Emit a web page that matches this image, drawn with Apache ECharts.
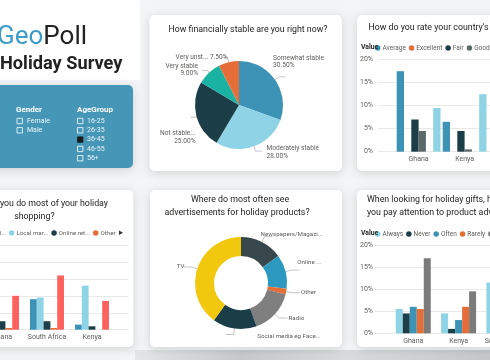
<!DOCTYPE html>
<html><head><meta charset="utf-8">
<script src="https://cdn.jsdelivr.net/npm/echarts@6/dist/echarts.min.js"></script>
<style>html,body{margin:0;padding:0;background:#fff}#c{width:490px;height:360px}</style>
</head><body><div id="c"></div>
<script>
// ---------- data ----------
const genderOptions = ['Female', 'Male'];
const ageGroups = ['16-25', '26-35', '36-45', '46-55', '56+'];
const ageSelected = '36-45';

const stabilityNames = ['Somewhat stable', 'Moderately stable', 'Not stable at all', 'Very stable', 'Very unstable'];
const stabilityLabels = ['Somewhat stable', 'Moderately stable', 'Not stable...', 'Very stable', 'Very unst...'];
const stabilityValues = [30.5, 28, 25, 9, 7.5];

const rateCountries = ['Ghana', 'Kenya'];
const rateSeries = ['Average', 'Excellent', 'Fair', 'Good', 'Poor', 'Very poor'];
const rateAverage = [17.5, 6.5];
const rateExcellent = [0, 0];
const rateFair = [7, 4.5];
const rateGood = [4.5, 0.5];
const ratePoor = [0, 0];
const rateVeryPoor = [9.5, 12.5];

const shopCountries = ['Ghana', 'South Africa', 'Kenya'];
const shopSeries = ['Retail stores', 'Local market', 'Online retailers', 'Other', 'Supermarket'];
const shopLegendLabels = ['Retail...', 'Local mar...', 'Online ret...', 'Other', 'Supermar...'];
const shopRetail = [6, 9, 1.5];
const shopLocal = [5, 9.5, 13];
const shopOnline = [2.5, 2.5, 1];
const shopOther = [0.5, 0.5, 0];
const shopSuper = [10, 16, 8.5];

const adNames = ['Newspapers/Magazines', 'Online platforms', 'Other', 'Radio', 'Social media eg Facebook', 'TV'];
const adLabels = ['Newspapers/Magazi...', 'Online ...', 'Other', 'Radio', 'Social media eg Face...', 'TV'];
const adValues = [15, 12, 2, 15.5, 15.5, 40];

const attnCountries = ['Ghana', 'Kenya', 'South Africa'];
const attnSeries = ['Always', 'Never', 'Often', 'Rarely', 'Sometimes'];
const attnAlways = [5.5, 4.5, 11.5];
const attnNever = [4.5, 1, null];
const attnOften = [6, 3, null];
const attnRarely = [5.5, 6, null];
const attnSometimes = [17, 9.5, null];

// ---------- styles ----------
const F = 'Roboto, "Noto Sans", sans-serif';
const C = {steel:'#3c93b5', light:'#8fd3e6', dark:'#1c3e48', teal:'#1ab3a3', orange:'#e56d38',
  grey:'#5d686a', grey2:'#7b7b7b', red:'#fd625e', yellow:'#f2c80f', slate:'#37474c', blue2:'#2d99c0'};
const stabilityColors = [C.steel, C.light, C.dark, C.teal, C.orange];
const rateColors = [C.steel, C.orange, C.dark, C.grey, C.red, C.light];
const shopColors = [C.steel, C.light, C.dark, C.orange, C.red];
const adColors = [C.slate, C.blue2, C.orange, '#7f7f7f', C.dark, C.yellow];
const attnColors = [C.light, C.dark, C.steel, C.orange, C.grey2];
const TXT = '#252423', SUB = '#605e5c', GRID = '#e9e9e9';
const TS = 8.8; // title font size
// label nudges (layout only)
const stabLabelShift = [[-17, -15], [0, 1], [10, 20], [1, -1], [11, 0]];
const adLabelShift = [[-17, -2], [-7, -8], [-4, 0], [-4, 0], [100, 2], [6, 0]];

const measure = (() => { const cv = document.createElement('canvas').getContext('2d');
  return (t, f) => { cv.font = f; return cv.measureText(t).width; }; })();

const chart = echarts.init(document.getElementById('c'), null, {renderer:'canvas'});

// ---------- graphics ----------
const g = [];
g.push({type:'rect', z:-20, shape:{x:0,y:0,width:490,height:360}, style:{fill:'#f4f5f6'}});
g.push({type:'rect', z:-20, shape:{x:0,y:0,width:140,height:80}, style:{fill:'#ffffff'}});
g.push({type:'rect', z:-19, shape:{x:135,y:350,width:355,height:10},
  style:{fill:new echarts.graphic.LinearGradient(0,0,1,0,[{offset:0,color:'#e4e7e8'},{offset:0.3,color:'#c6cacc'},{offset:0.6,color:'#d9dcdd'},{offset:1,color:'#c4c8ca'}])}});
const panel = (x, y, w, h, fill) => g.push({type:'rect', z:-10, shape:{x, y, width:w, height:h, r:5},
  style:{fill: fill || '#ffffff', shadowBlur:10, shadowColor:'rgba(0,0,0,0.15)', shadowOffsetY:2}});
panel(-10, 85, 143, 83, '#4697b7');
panel(149.5, 15, 192.5, 156);
panel(357, 15, 150, 156);
panel(-10, 190, 143.3, 157);
panel(150, 190, 192, 157);
panel(357, 190, 150, 157);

const text = (t, x, y, o) => g.push(Object.assign({type:'text', z:50, x, y,
  style:Object.assign({text:t, fontFamily:F, fontSize:TS, fill:TXT, textAlign:'left', textVerticalAlign:'middle'}, o || {})}));

// header
g.push({type:'text', z:50, x:-3, y:37, style:{text:'{a|Geo}{b|Poll}', textVerticalAlign:'middle',
  rich:{a:{fontFamily:F, fontSize:26, fill:'#3d9dc8', color:'#3d9dc8'}, b:{fontFamily:F, fontSize:26, fill:'#222', color:'#222'}}}});
text('Holiday Survey', 0, 64, {fontSize:18.2, fontWeight:'bold', fill:'#222'});

// slicers
text('Gender', 16, 110, {fontSize:8, fontWeight:'bold', fill:'#fff'});
genderOptions.forEach((o, i) => {
  const y = 121 + i * 9.3;
  g.push({type:'rect', z:50, shape:{x:17, y:y-2.7, width:5.4, height:5.4}, style:{fill:'none', stroke:'#fff', lineWidth:0.8}});
  text(o, 27, y, {fontSize:7, fill:'#eaf4f8'});
});
text('AgeGroup', 77, 110, {fontSize:8, fontWeight:'bold', fill:'#fff'});
ageGroups.forEach((o, i) => {
  const y = 121 + i * 9.3;
  const sel = o === ageSelected;
  g.push({type:'rect', z:50, shape:{x:77.5, y:y-2.7, width:5.4, height:5.4}, style:{fill: sel ? '#1b1b1b' : 'none', stroke: sel ? '#1b1b1b' : '#fff', lineWidth:0.8}});
  text(o, 87, y, {fontSize:7, fill:'#eaf4f8'});
});

// panel titles
text('How financially stable are you right now?', 248, 30, {textAlign:'center'});
text("How do you rate your country's economic situation?", 368.5, 28);
const t4a = 'Where do you do most of your holiday';
const w4a = measure(t4a, TS + 'px Roboto');
text(t4a, 108, 204, {textAlign:'right'});
text('shopping?', 108 - w4a / 2, 217, {textAlign:'center'});
text('Where do most often see', 240, 200, {textAlign:'center'});
text('advertisements for holiday products?', 237, 213, {textAlign:'center'});
text('When looking for holiday gifts, how often do', 367, 200);
text('you pay attention to product advertisements?', 367, 213);

// legend captions
text('Value', 361, 47.5, {fontSize:6.8, fontWeight:'bold', fill:TXT});
text('Value', 361, 233.5, {fontSize:6.8, fontWeight:'bold', fill:TXT});
g.push({type:'polygon', z:50, shape:{points:[[119,230.5],[123,232.7],[119,235]]}, style:{fill:'#333'}});

// ---------- axes ----------
const axLabel = {fontFamily:F, fontSize:7, color:SUB};
const gridBase = {outerBoundsMode:'none', containLabel:false};
const grids = [
  {left:378, width:140, top:59.7, bottom:208.3},      // 0 P3 grid lines
  {left:395.6, width:92, top:59.7, bottom:208.3},     // 1 P3 bars
  {left:-40, width:168.3, top:245, bottom:30.3},      // 2 P4 grid lines
  {left:-20.5, width:135, top:245, bottom:30.3},      // 3 P4 bars
  {left:375, width:140, top:245, bottom:26.7},        // 4 P6 grid lines
  {left:390.6, width:136, top:245, bottom:26.7}       // 5 P6 bars
].map(o => Object.assign({}, gridBase, o));
const xAxes = [], yAxes = [];
function addPair(gi, cats, show, margin, max, interval) {
  xAxes.push({gridIndex:gi, type:'category', data:cats, show:show.x,
    axisLine:{show:false}, axisTick:{show:false}, axisLabel:Object.assign({margin:4, interval:0}, axLabel)});
  yAxes.push({gridIndex:gi, type:'value', min:0, max, interval, show:true,
    axisLine:{show:false}, axisTick:{show:false},
    splitLine:{show:show.split, lineStyle:{color:GRID, width:1}},
    axisLabel:Object.assign({show:show.y, margin, formatter:'{value}%'}, axLabel)});
}
addPair(0, rateCountries, {x:false, y:true, split:true}, 5, 20, 5);
addPair(1, rateCountries, {x:true, y:false, split:false}, 5, 20, 5);
addPair(2, shopCountries, {x:false, y:false, split:true}, 5, 25, 5);
addPair(3, shopCountries, {x:true, y:false, split:false}, 5, 25, 5);
addPair(4, attnCountries, {x:false, y:true, split:true}, 2, 20, 5);
addPair(5, attnCountries, {x:true, y:false, split:false}, 2, 20, 5);

// ---------- series ----------
const series = [];
function bars(gi, names, datas, colors, width) {
  names.forEach((n, i) => series.push({type:'bar', name:n, xAxisIndex:gi, yAxisIndex:gi, data:datas[i],
    barWidth:width, barGap:'0%', itemStyle:{color:colors[i]}, silent:true, animation:false}));
}
bars(1, rateSeries, [rateAverage, rateExcellent, rateFair, rateGood, ratePoor, rateVeryPoor], rateColors, 7.3);
bars(3, shopSeries, [shopRetail, shopLocal, shopOnline, shopOther, shopSuper], shopColors, 6.8);
bars(5, attnSeries, [attnAlways, attnNever, attnOften, attnRarely, attnSometimes], attnColors, 7);

series.push({type:'pie', center:[239, 105], radius:44, startAngle:90, clockwise:true, silent:true, animation:false,
  data: stabilityNames.map((n, i) => ({name:n, value:stabilityValues[i], itemStyle:{color:stabilityColors[i]}})),
  label:{fontFamily:F, fontSize:6.6, color:SUB, lineHeight:7.5,
    formatter: p => { const l = stabilityLabels[p.dataIndex], v = p.value.toFixed(2) + '%';
      return p.dataIndex === 4 ? l + ' ' + v : l + '\n' + v; }},
  labelLine:{length:5, length2:6, lineStyle:{color:'#aaa', width:0.7}},
  labelLayout: p => ({dx: stabLabelShift[p.dataIndex][0], dy: stabLabelShift[p.dataIndex][1]})});

series.push({type:'pie', center:[241, 283], radius:[27, 46], startAngle:90, clockwise:true, silent:true, animation:false,
  data: adNames.map((n, i) => ({name:n, value:adValues[i], itemStyle:{color:adColors[i]}})),
  label:{fontFamily:F, fontSize:6.2, color:SUB, formatter: p => adLabels[p.dataIndex]},
  labelLine:{length:6, length2:8, lineStyle:{color:'#aaa', width:0.7}},
  labelLayout: p => ({dx: adLabelShift[p.dataIndex][0], dy: adLabelShift[p.dataIndex][1]})});

const legendBase = {orient:'horizontal', icon:'circle', itemWidth:5.5, itemHeight:5.5, itemGap:3, padding:0, width:600,
  selectedMode:false, textStyle:{fontFamily:F, fontSize:6.5, color:SUB, padding:[0,0,0,-3]}};
const legends = [
  Object.assign({}, legendBase, {data:rateSeries, left:375, top:44.5}),
  Object.assign({}, legendBase, {data:shopSeries.slice(0, 4), left:-22, top:230,
    textStyle:Object.assign({}, legendBase.textStyle, {fontSize:6.2}),
    formatter: n => shopLegendLabels[shopSeries.indexOf(n)]}),
  Object.assign({}, legendBase, {data:attnSeries, left:375, top:230.5})
];

chart.setOption({animation:false, grid:grids, xAxis:xAxes, yAxis:yAxes, series, legend:legends, graphic:{elements:g}});
</script></body></html>
